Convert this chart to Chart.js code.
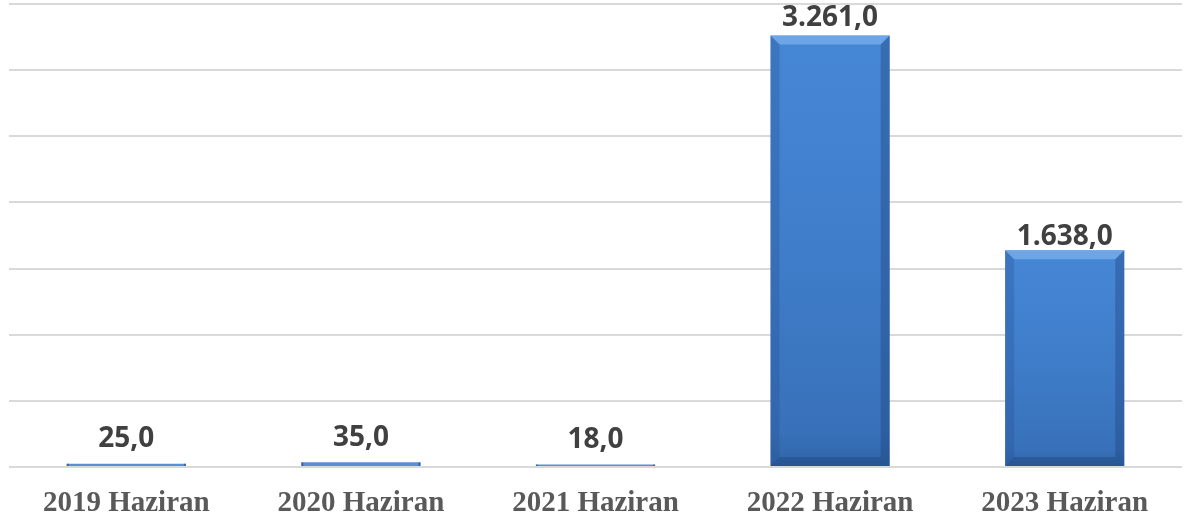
<!DOCTYPE html>
<html><head><meta charset="utf-8">
<script src="https://cdn.jsdelivr.net/npm/chart.js@4.4.0/dist/chart.umd.min.js"></script>
<style>html,body{margin:0;padding:0;background:#fff;}#wrap{width:1184px;height:523px;position:relative}</style>
</head><body><div id="wrap"><canvas id="c"></canvas></div>
<script>
const categories = ['2019 Haziran', '2020 Haziran', '2021 Haziran', '2022 Haziran', '2023 Haziran'];
const values = [25, 35, 18, 3261, 1638];
const yTickMin = 0;
const yTickMax = 3500;
const yTickStep = 500;

function fmtTR(v) {
  const parts = v.toFixed(1).split('.');
  return parts[0].replace(/\B(?=(\d{3})+(?!\d))/g, '.') + ',' + parts[1];
}

function barFill(context) {
  const chart = context.chart;
  const area = chart.chartArea;
  if (!area || !chart.scales.y) return '#3f7fcc';
  const v = context.raw;
  const yTop = chart.scales.y.getPixelForValue(v);
  const yBot = chart.scales.y.getPixelForValue(0);
  if (yBot - yTop < 6) return '#5a8fd8';
  const g = chart.ctx.createLinearGradient(0, yTop, 0, yBot);
  g.addColorStop(0, '#4687d5');
  g.addColorStop(0.5, '#3f7dca');
  g.addColorStop(0.92, '#3871b9');
  g.addColorStop(1, '#3064a8');
  return g;
}

const bevelPlugin = {
  id: 'bevel',
  afterDatasetsDraw(chart) {
    const ctx = chart.ctx;
    const meta = chart.getDatasetMeta(0);
    meta.data.forEach((bar) => {
      const p = bar.getProps(['x', 'y', 'base', 'width'], true);
      const l = p.x - p.width / 2, r = p.x + p.width / 2, t = p.y, b = p.base;
      const h = b - t;
      ctx.save();
      if (h < 6) {
        ctx.fillStyle = 'rgba(40,70,120,0.6)';
        ctx.fillRect(l, t, 2, h);
        ctx.fillRect(r - 2, t, 2, h);
        ctx.restore();
        return;
      }
      const s = Math.min(9, h / 2, p.width / 2);
      ctx.beginPath(); ctx.moveTo(l, t); ctx.lineTo(r, t); ctx.lineTo(r - s, t + s); ctx.lineTo(l + s, t + s); ctx.closePath();
      ctx.fillStyle = 'rgba(125,180,240,0.7)'; ctx.fill();
      ctx.beginPath(); ctx.moveTo(l, t); ctx.lineTo(l + s, t + s); ctx.lineTo(l + s, b - s); ctx.lineTo(l, b); ctx.closePath();
      ctx.fillStyle = 'rgba(35,75,140,0.28)'; ctx.fill();
      ctx.beginPath(); ctx.moveTo(r, t); ctx.lineTo(r - s, t + s); ctx.lineTo(r - s, b - s); ctx.lineTo(r, b); ctx.closePath();
      ctx.fillStyle = 'rgba(25,60,115,0.34)'; ctx.fill();
      ctx.beginPath(); ctx.moveTo(l, b); ctx.lineTo(l + s, b - s); ctx.lineTo(r - s, b - s); ctx.lineTo(r, b); ctx.closePath();
      ctx.fillStyle = 'rgba(25,55,105,0.32)'; ctx.fill();
      ctx.restore();
    });
  }
};

const labelGaps = [17, 16, 17, 10, 5];
const labelPlugin = {
  id: 'valueLabels',
  afterDatasetsDraw(chart) {
    const ctx = chart.ctx;
    const meta = chart.getDatasetMeta(0);
    ctx.save();
    ctx.font = 'bold 28px "Open Sans"';
    ctx.fillStyle = '#404040';
    ctx.textAlign = 'center';
    ctx.textBaseline = 'alphabetic';
    meta.data.forEach((bar, i) => {
      const p = bar.getProps(['x', 'y'], true);
      ctx.fillText(fmtTR(values[i]), p.x, p.y - labelGaps[i]);
    });
    ctx.restore();
  }
};

new Chart(document.getElementById('c'), {
  type: 'bar',
  data: {
    labels: categories,
    datasets: [{
      data: values,
      backgroundColor: barFill,
      borderWidth: 0,
      categoryPercentage: 1,
      barPercentage: 0.508
    }]
  },
  options: {
    responsive: true,
    maintainAspectRatio: false,
    animation: false,
    devicePixelRatio: 1,
    layout: { padding: { top: 4, left: 9, right: 2, bottom: 0 } },
    plugins: { legend: { display: false }, tooltip: { enabled: false } },
    scales: {
      x: {
        grid: { display: false, drawTicks: false },
        border: { display: false },
        ticks: {
          color: '#595959',
          padding: 19,
          maxRotation: 0,
          font: { family: '"Liberation Serif", "Times New Roman", serif', weight: 'bold', size: 29 }
        },
        afterFit(scale) { scale.height = 56; }
      },
      y: {
        min: yTickMin,
        max: yTickMax,
        ticks: { stepSize: yTickStep, display: false },
        grid: { color: '#d9d9d9', lineWidth: 2, drawTicks: false },
        border: { display: false },
        afterFit(scale) { scale.width = 0; }
      }
    }
  },
  plugins: [bevelPlugin, labelPlugin]
});
</script></body></html>
